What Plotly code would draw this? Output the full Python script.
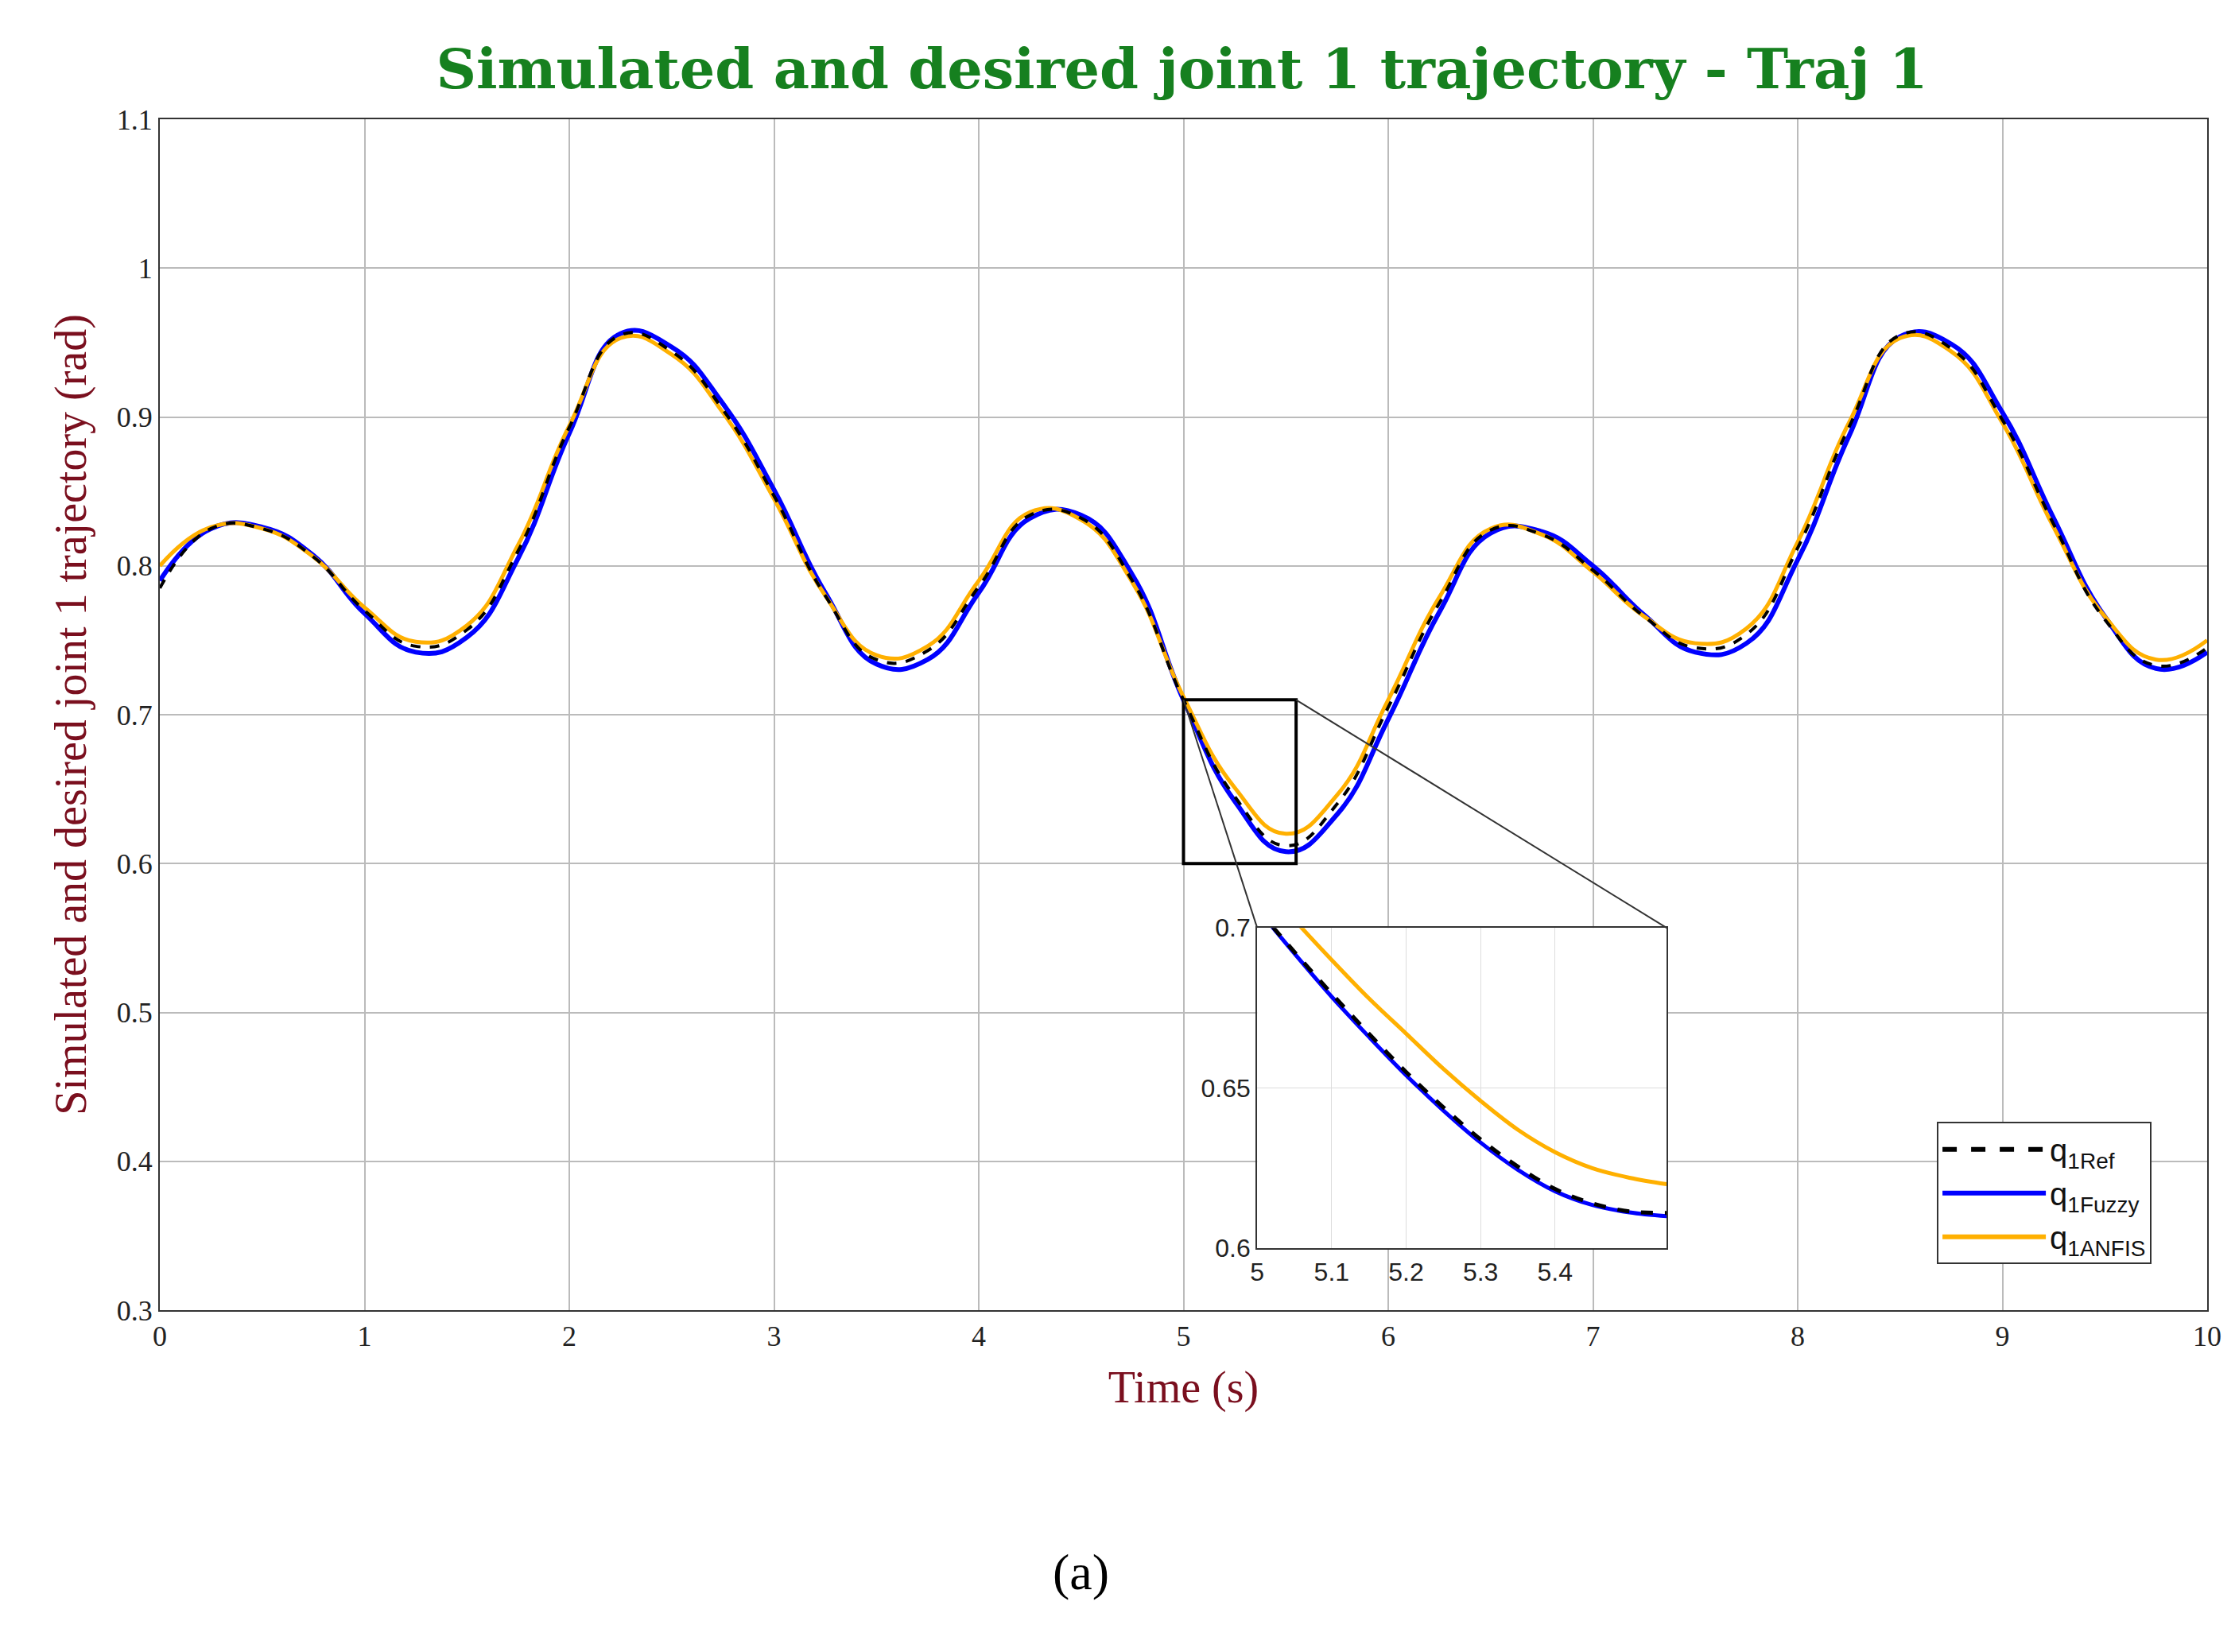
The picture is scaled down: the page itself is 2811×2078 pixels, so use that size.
import plotly.graph_objects as go

t = [0,0.25,0.5,0.75,1.0,1.25,1.5,1.75,2.0,2.25,2.5,2.75,3.0,3.25,3.5,3.75,4.0,4.25,4.5,4.75,5.0,5.25,5.5,5.75,6.0,6.25,6.5,6.75,7.0,7.25,7.5,7.75,8.0,8.25,8.5,8.75,9.0,9.25,9.5,9.75,10.0]
q_ref = [0.785,0.825,0.825,0.806,0.770,0.746,0.757,0.810,0.893,0.955,0.944,0.905,0.847,0.780,0.737,0.743,0.786,0.834,0.832,0.790,0.710,0.645,0.612,0.640,0.705,0.775,0.824,0.821,0.797,0.766,0.745,0.754,0.812,0.893,0.955,0.946,0.898,0.828,0.764,0.733,0.745]
q_fuzzy = [0.790,0.825,0.826,0.807,0.768,0.742,0.752,0.805,0.889,0.956,0.947,0.909,0.851,0.782,0.734,0.737,0.782,0.832,0.834,0.794,0.710,0.642,0.608,0.633,0.697,0.769,0.822,0.823,0.800,0.767,0.742,0.748,0.804,0.887,0.954,0.949,0.903,0.832,0.766,0.731,0.742]
q_anfis = [0.800,0.826,0.825,0.806,0.772,0.749,0.760,0.814,0.894,0.953,0.942,0.903,0.845,0.780,0.740,0.746,0.790,0.836,0.831,0.789,0.712,0.651,0.620,0.646,0.710,0.779,0.825,0.821,0.796,0.766,0.748,0.758,0.816,0.896,0.953,0.944,0.896,0.826,0.766,0.737,0.750]

tz = [5.0,5.05,5.1,5.15,5.2,5.25,5.3,5.35,5.4,5.45,5.5,5.55]
z_ref = [0.706,0.6925,0.6795,0.667,0.655,0.644,0.634,0.6255,0.6185,0.614,0.6115,0.611]
z_fuzzy = [0.706,0.692,0.6785,0.666,0.654,0.643,0.633,0.6245,0.6178,0.6135,0.6112,0.610]
z_anfis = [0.716,0.7025,0.690,0.678,0.667,0.656,0.646,0.637,0.630,0.625,0.622,0.620]

BLUE = "#0000ff"; ORG = "#ffb000"
fig = go.Figure()
fig.add_trace(go.Scatter(x=t, y=q_fuzzy, mode="lines", line=dict(color=BLUE, width=6, shape="spline", smoothing=1.3), showlegend=False))
fig.add_trace(go.Scatter(x=t, y=q_anfis, mode="lines", line=dict(color=ORG, width=5, shape="spline", smoothing=1.3), showlegend=False))
fig.add_trace(go.Scatter(x=t, y=q_ref, mode="lines", line=dict(color="black", width=4, dash="dash", shape="spline", smoothing=1.3), showlegend=False))
fig.add_trace(go.Scatter(x=[None], y=[None], name="q<sub>1Ref</sub>", mode="lines", line=dict(color="black", width=6, dash="dash")))
fig.add_trace(go.Scatter(x=[None], y=[None], name="q<sub>1Fuzzy</sub>", mode="lines", line=dict(color=BLUE, width=6)))
fig.add_trace(go.Scatter(x=[None], y=[None], name="q<sub>1ANFIS</sub>", mode="lines", line=dict(color=ORG, width=6)))
fig.add_trace(go.Scatter(x=tz, y=z_fuzzy, mode="lines", line=dict(color=BLUE, width=5, shape="spline"), xaxis="x2", yaxis="y2", showlegend=False))
fig.add_trace(go.Scatter(x=tz, y=z_anfis, mode="lines", line=dict(color=ORG, width=5, shape="spline"), xaxis="x2", yaxis="y2", showlegend=False))
fig.add_trace(go.Scatter(x=tz, y=z_ref, mode="lines", line=dict(color="black", width=5, dash="dash", shape="spline"), xaxis="x2", yaxis="y2", showlegend=False))

ix0, ix1, iy0, iy1 = 0.536, 0.736, 0.052, 0.321
def px(v): return v / 10
def py(v): return (v - 0.3) / 0.8
serif = "Liberation Serif"
fig.update_layout(
    width=2811, height=2078, paper_bgcolor="white", plot_bgcolor="white",
    margin=dict(l=193, r=43, t=142, b=438),
    title=dict(text="<b>Simulated and desired joint 1 trajectory - Traj 1</b>", x=0.526, xanchor="center", y=0.962, yanchor="middle",
               font=dict(family="DejaVu Serif", size=70, color="#16801f")),
    xaxis=dict(range=[0, 10], dtick=1, showgrid=True, gridcolor="#bbbbbb", gridwidth=2, mirror=True, showline=True, linecolor="#333", linewidth=2,
               ticks="", zeroline=False, tickfont=dict(family=serif, size=36, color="#222"),
               title=dict(text="Time (s)", font=dict(family=serif, size=56, color="#7a0f1e"), standoff=25)),
    yaxis=dict(range=[0.3, 1.1], dtick=0.1, tickformat="~g", showgrid=True, gridcolor="#bbbbbb", gridwidth=2, mirror=True, showline=True, linecolor="#333", linewidth=2,
               ticks="", zeroline=False, tickfont=dict(family=serif, size=36, color="#222"),
               title=dict(text="Simulated and desired joint 1 trajectory (rad)", font=dict(family=serif, size=56, color="#7a0f1e"), standoff=20)),
    xaxis2=dict(domain=[ix0, ix1], anchor="y2", range=[5, 5.55], tickvals=[5, 5.1, 5.2, 5.3, 5.4], tickformat="~g", showgrid=True, gridcolor="#dddddd",
                mirror=True, showline=True, linecolor="#333", linewidth=2, zeroline=False, tickfont=dict(family="Liberation Sans", size=32, color="#222")),
    yaxis2=dict(domain=[iy0, iy1], anchor="x2", range=[0.6, 0.7], tickvals=[0.6, 0.65, 0.7], tickformat="~g", showgrid=True, gridcolor="#dddddd",
                mirror=True, showline=True, linecolor="#333", linewidth=2, zeroline=False, tickfont=dict(family="Liberation Sans", size=32, color="#222")),
    legend=dict(x=0.868, y=0.158, xanchor="left", yanchor="top", bordercolor="#333", borderwidth=2, bgcolor="white",
                font=dict(family="Liberation Sans", size=40, color="#111"), itemwidth=130, tracegroupgap=10),
    shapes=[
        dict(type="rect", xref="x", yref="y", x0=5, x1=5.55, y0=0.6, y1=0.71, line=dict(color="black", width=4)),
        dict(type="line", xref="paper", yref="paper", x0=px(5.55), y0=py(0.71), x1=ix1, y1=iy1, line=dict(color="#333", width=2)),
        dict(type="line", xref="paper", yref="paper", x0=px(5.0), y0=py(0.71), x1=ix0, y1=iy1, line=dict(color="#333", width=2)),
    ],
    annotations=[dict(text="(a)", xref="paper", yref="paper", x=0.45, y=-0.245, showarrow=False, font=dict(family=serif, size=64, color="black"))],
)
fig.write_html("out.html")
